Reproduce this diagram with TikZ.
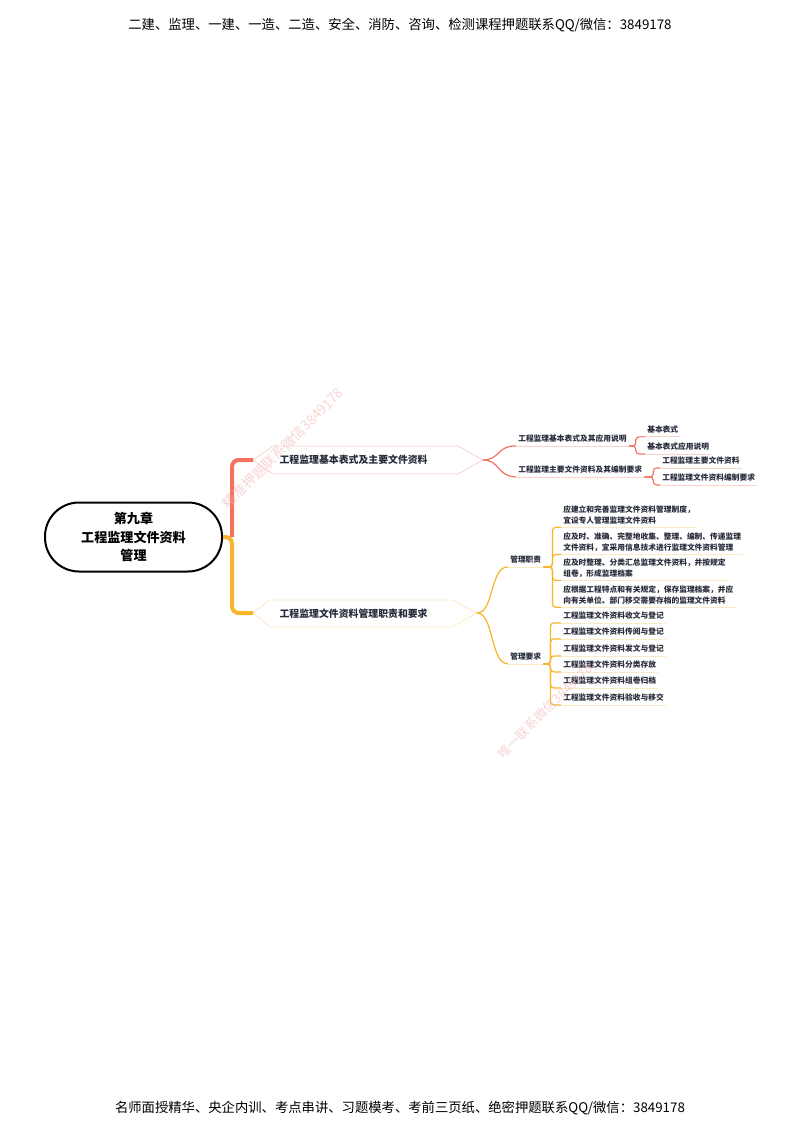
\documentclass[tikz,border=0pt]{standalone}
\usepackage{fontspec}
\setmainfont{Noto Sans CJK SC}
\definecolor{redL}{HTML}{F2725F}
\definecolor{orgL}{HTML}{F8B42A}
\definecolor{redP}{HTML}{F9D2CA}
\definecolor{orgP}{HTML}{FBE8C4}
\definecolor{txt}{HTML}{262B3A}
\definecolor{wmc}{HTML}{F2AFAF}
\tikzset{
  small/.style={font=\fontsize{5.8}{8}\selectfont\bfseries, text=txt, inner xsep=1.5pt, inner ysep=2.2pt, anchor=west, align=left},
  branch/.style={font=\fontsize{7.4}{9}\selectfont\bfseries, text=txt, inner sep=1pt, anchor=west},
  rootbox/.style={draw=black, line width=1.5pt, rounded corners=25.5pt, minimum width=132.75pt, minimum height=51.75pt, align=center, font=\fontsize{9.8}{13.9}\selectfont\bfseries, text=black},
  hdr/.style={font=\fontsize{10}{12}\selectfont, text=black},
  wmk/.style={font=\fontsize{10.3}{12}\selectfont\mdseries, text=wmc, rotate=45, opacity=0.55},
  trunk/.style={line width=3pt, rounded corners=5pt},
  curve/.style={line width=0.9pt},
  brk/.style={line width=0.9pt, rounded corners=2.5pt},
  uline/.style={line width=0.6pt},
  hexR/.style={draw=redP, line width=0.6pt},
  hexO/.style={draw=orgP, line width=0.6pt},
}
\begin{document}
\begin{tikzpicture}[x=0.75pt,y=-0.75pt]
\useasboundingbox (0,0) rectangle (800,1130);

% header / footer
\node[hdr] (hdr) at (400,25) {二建、监理、一建、一造、二造、安全、消防、咨询、检测课程押题联系QQ/微信：3849178};
\node[hdr] (ftr) at (400,1108) {名师面授精华、央企内训、考点串讲、习题模考、考前三页纸、绝密押题联系QQ/微信：3849178};

% root
\node[rootbox] (root) at (133.5,537) {第九章\\工程监理文件资料\\管理};

% hexagon outlines for branch topics
\draw[hexR] (253,460) -- (273,446) -- (458,446) -- (483,460) -- (458,474) -- (273,474) -- cycle;
\draw[hexO] (253,613) -- (270,600) -- (452,600) -- (477,613) -- (452,627) -- (270,627) -- cycle;
\coordinate (b1L) at (253,460);
\coordinate (b1R) at (483,460);
\coordinate (b2L) at (253,613);
\coordinate (b2R) at (477,613);
\coordinate (tj) at (232,537);

\node[branch] (b1) at (278,460) {工程监理基本表式及主要文件资料};
\node[branch] (b2) at (278,614) {工程监理文件资料管理职责和要求};

% trunk
\draw[trunk, redL] (tj) -- (232,460) -- (b1L);
\draw[trunk, orgL] (root.east) -- (tj) -- (232,613) -- (b2L);

% ---- red branch children
\node[small] (c1) at (516,439) {工程监理基本表式及其应用说明};
\node[small] (c2) at (516,470) {工程监理主要文件资料及其编制要求};
\node[small] (g11) at (645,430) {基本表式};
\node[small] (g12) at (645,447) {基本表式应用说明};
\node[small] (g21) at (660,461) {工程监理主要文件资料};
\node[small] (g22) at (660,478) {工程监理文件资料编制要求};

\foreach \n in {c1,c2,g11,g12,g21,g22}
  \draw[uline, redP] (\n.south west) -- (\n.south east);

\draw[curve, redL] (b1R) .. controls (500,460) and (497,445.5) .. (c1.south west);
\draw[curve, redL] (b1R) .. controls (500,460) and (497,476.5) .. (c2.south west);

\draw[brk, redL] (c1.south east) -- ++(7,0) |- (g11.south west);
\draw[brk, redL] (c1.south east) -- ++(7,0) |- (g12.south west);
\draw[brk, redL] (c2.south east) -- ++(9,0) |- (g21.south west);
\draw[brk, redL] (c2.south east) -- ++(9,0) |- (g22.south west);

% ---- orange branch children
\node[small] (m1) at (508,560) {管理职责};
\node[small] (m2) at (508,657) {管理要求};

\node[small] (r1) at (561,515) {应建立和完善监理文件资料管理制度，\\宜设专人管理监理文件资料};
\node[small] (r2) at (561,542) {应及时、准确、完整地收集、整理、编制、传递监理\\文件资料，宜采用信息技术进行监理文件资料管理};
\node[small] (r3) at (561,568) {应及时整理、分类汇总监理文件资料，并按规定\\组卷，形成监理档案};
\node[small] (r4) at (561,595) {应根据工程特点和有关规定，保存监理档案，并应\\向有关单位、部门移交需要存档的监理文件资料};

\node[small] (q1) at (561,616) {工程监理文件资料收文与登记};
\node[small] (q2) at (561,632) {工程监理文件资料传阅与登记};
\node[small] (q3) at (561,649) {工程监理文件资料发文与登记};
\node[small] (q4) at (561,665) {工程监理文件资料分类存放};
\node[small] (q5) at (561,681) {工程监理文件资料组卷归档};
\node[small] (q6) at (561,698) {工程监理文件资料验收与移交};

\foreach \n in {m1,m2,r1,r2,r3,r4,q1,q2,q3,q4,q5,q6}
  \draw[uline, orgP] (\n.south west) -- (\n.south east);

\draw[curve, orgL] (b2R) .. controls (494,613) and (490,566.5) .. (m1.south west);
\draw[curve, orgL] (b2R) .. controls (494,613) and (490,663.5) .. (m2.south west);

\foreach \n in {r1,r2,r3,r4}
  \draw[brk, orgL] (m1.south east) -- ++(9,0) |- (\n.south west);
\foreach \n in {q1,q2,q3,q4,q5,q6}
  \draw[brk, orgL] (m2.south east) -- ++(7,0) |- (\n.south west);

% watermarks
\node[wmk] (wm1) at (283,448) {精准押题联系微信3849178};
\node[wmk, font=\fontsize{9.6}{12}\selectfont] (wm2) at (545,711) {唯一联系微信3849178};
\end{tikzpicture}
\end{document}
